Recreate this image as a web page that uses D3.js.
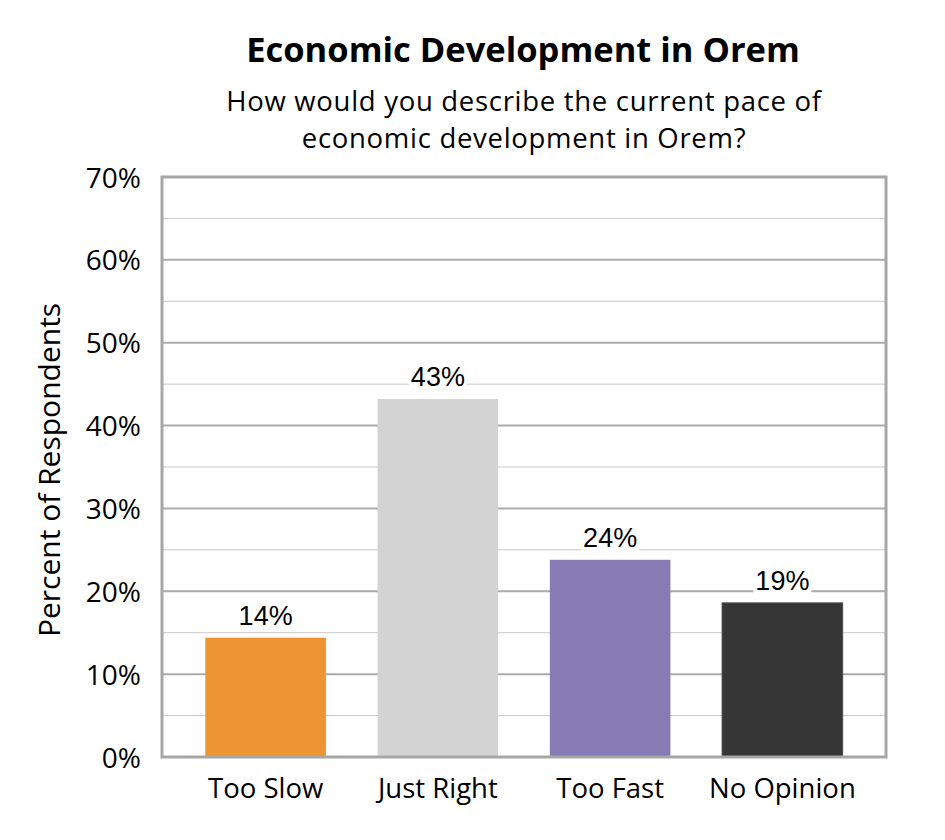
<!DOCTYPE html>
<html>
<head>
<meta charset="utf-8">
<script src="https://cdn.jsdelivr.net/npm/d3@7"></script>
<style>
  body { margin: 0; background: #fff; }
  svg { display: block; }
</style>
</head>
<body>
<div id="chart"></div>
<script>
// chart data
var categories = ["Too Slow", "Just Right", "Too Fast", "No Opinion"];
var values = [14.4, 43.2, 23.8, 18.6];
var valueLabels = ["14%", "43%", "24%", "19%"];
var barColors = ["#ED9535", "#D3D3D3", "#877BB5", "#363636"];
var yTicks = [0, 10, 20, 30, 40, 50, 60, 70];
var minorTicks = [5, 15, 25, 35, 45, 55, 65];
var subtitleLines = ["How would you describe the current pace of", "economic development in Orem?"];

var W = 945, H = 840;
var frame = { left: 162, right: 886, top: 177, bottom: 757 };
var uiFont = "'Open Sans', 'DejaVu Sans', sans-serif";

var svg = d3.select("#chart").append("svg")
  .attr("width", W).attr("height", H);

var y = d3.scaleLinear().domain([0, 70]).range([frame.bottom, frame.top]);
var x = d3.scaleBand().domain(categories)
  .range([179.5, 868.5]).paddingInner(0.3).paddingOuter(0.15);

// minor gridlines
svg.append("g").selectAll("line").data(minorTicks).join("line")
  .attr("x1", frame.left).attr("x2", frame.right)
  .attr("y1", d => y(d)).attr("y2", d => y(d))
  .attr("stroke", "#c8c8c8").attr("stroke-width", 1);

// major gridlines
svg.append("g").selectAll("line").data(yTicks.slice(1, -1)).join("line")
  .attr("x1", frame.left).attr("x2", frame.right)
  .attr("y1", d => y(d)).attr("y2", d => y(d))
  .attr("stroke", "#ababab").attr("stroke-width", 2);

// bars
svg.append("g").selectAll("rect").data(values).join("rect")
  .attr("x", (d, i) => x(categories[i]))
  .attr("width", x.bandwidth())
  .attr("y", d => y(d))
  .attr("height", d => y(0) - y(d))
  .attr("fill", (d, i) => barColors[i])
  .attr("stroke", (d, i) => i == 3 ? "#4a4a4a" : "none")
  .attr("stroke-width", 1);

// frame
svg.append("rect")
  .attr("x", frame.left).attr("y", frame.top)
  .attr("width", frame.right - frame.left)
  .attr("height", frame.bottom - frame.top)
  .attr("fill", "none").attr("stroke", "#a6a6a6").attr("stroke-width", 3);

// data labels with white boxes
var lab = svg.append("g").selectAll("g").data(values).join("g")
  .attr("transform", (d, i) => "translate(" + (x(categories[i]) + x.bandwidth() / 2) + "," + (y(d) - 13) + ")");
lab.append("rect").attr("fill", "#fff");
lab.append("text")
  .attr("text-anchor", "middle")
  .attr("font-family", "'Liberation Sans', Arial, sans-serif")
  .attr("font-size", 27)
  .attr("fill", "#000")
  .text((d, i) => valueLabels[i]);
lab.each(function () {
  var b = d3.select(this).select("text").node().getBBox();
  d3.select(this).select("rect")
    .attr("x", b.x - 2).attr("y", b.y + 2)
    .attr("width", b.width + 4).attr("height", b.height - 2);
});

// y axis
var yAxis = d3.axisLeft(y).tickValues(yTicks).tickSize(0).tickPadding(0)
  .tickFormat(d => d + "%");
svg.append("g")
  .attr("transform", "translate(141,0)")
  .call(yAxis)
  .call(g => g.select(".domain").remove())
  .selectAll("text")
  .attr("font-family", uiFont).attr("font-size", 28).attr("fill", "#000")
  .attr("dy", "0.36em");

// x axis labels
var xAxis = d3.axisBottom(x).tickSize(0).tickPadding(0);
svg.append("g")
  .attr("transform", "translate(0,798)")
  .call(xAxis)
  .call(g => g.select(".domain").remove())
  .selectAll("text")
  .attr("font-family", uiFont).attr("font-size", 27.5).attr("fill", "#000")
  .attr("dy", 0);

// y axis title
svg.append("text")
  .attr("transform", "translate(60,470) rotate(-90)")
  .attr("text-anchor", "middle")
  .attr("font-family", uiFont).attr("font-size", 30)
  .text("Percent of Respondents");

// titles
svg.append("text")
  .attr("x", 523).attr("y", 62).attr("text-anchor", "middle")
  .attr("font-family", uiFont).attr("font-weight", "bold").attr("font-size", 34.5)
  .text("Economic Development in Orem");
svg.append("text")
  .attr("text-anchor", "middle")
  .attr("font-family", uiFont).attr("font-size", 27.5)
  .attr("letter-spacing", 0.7)
  .selectAll("tspan").data(subtitleLines).join("tspan")
  .attr("x", 524).attr("y", (d, i) => 110.5 + i * 37.5)
  .text(d => d);
</script>
</body>
</html>
